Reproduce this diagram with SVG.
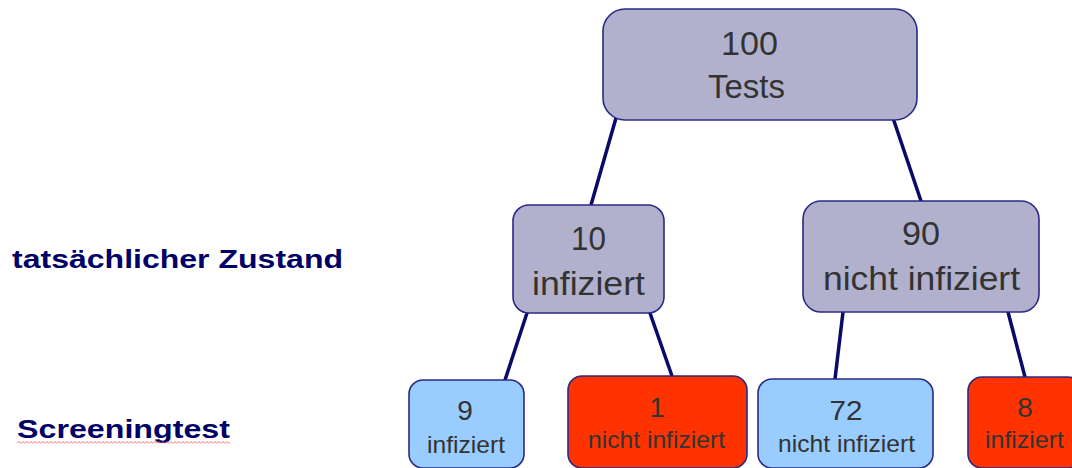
<svg xmlns="http://www.w3.org/2000/svg" width="1072" height="468" viewBox="0 0 1072 468">
<defs>
<pattern id="wavy" x="17" y="441" width="4" height="3" patternUnits="userSpaceOnUse">
  <path d="M0 2.5 L2 0.5 L4 2.5" fill="none" stroke="#ff5a5a" stroke-width="0.9"/>
</pattern>
</defs>
<style>
.node{stroke:#2a2a86;stroke-width:1.6}
.grey{fill:#b1b1cd}
.blue{fill:#99ccff}
.red{fill:#ff3300}
.t{font-family:"Liberation Sans",Arial,sans-serif;fill:#333333;text-anchor:middle}
.big{font-size:34px}
.num{font-size:28px}
.lab{font-size:24px}
.side{font-family:"Liberation Sans",Arial,sans-serif;font-weight:bold;font-size:26px;fill:#000066}
.conn line{stroke:#0a0a6a;stroke-width:3.5;stroke-linecap:round}
</style>
<rect width="1072" height="468" fill="#ffffff"/>
<g id="connectors" class="conn">
  <line x1="616" y1="118" x2="591" y2="205"/>
  <line x1="893" y1="118" x2="921" y2="201"/>
  <line x1="527" y1="313" x2="505" y2="380"/>
  <line x1="650" y1="313" x2="672" y2="376"/>
  <line x1="843" y1="312" x2="835" y2="379"/>
  <line x1="1008" y1="312" x2="1025" y2="377"/>
</g>
<g id="label-zustand">
  <text class="side" x="12" y="268" textLength="331" lengthAdjust="spacingAndGlyphs">tatsächlicher Zustand</text>
</g>
<g id="label-screening">
  <text class="side" x="17" y="438" textLength="213" lengthAdjust="spacingAndGlyphs">Screeningtest</text>
  <rect x="17" y="441" width="213" height="3" fill="url(#wavy)"/>
</g>
<g id="node-100">
  <rect class="node grey" x="603" y="9" width="314" height="111" rx="22"/>
  <text class="t big" x="749.5" y="55" textLength="57" lengthAdjust="spacingAndGlyphs">100</text>
  <text class="t big" x="746.5" y="98" textLength="77" lengthAdjust="spacingAndGlyphs">Tests</text>
</g>
<g id="node-10">
  <rect class="node grey" x="513" y="205" width="151" height="108" rx="16"/>
  <text class="t big" x="588.5" y="250" textLength="35" lengthAdjust="spacingAndGlyphs">10</text>
  <text class="t big" x="588.5" y="295" textLength="113" lengthAdjust="spacingAndGlyphs">infiziert</text>
</g>
<g id="node-90">
  <rect class="node grey" x="803" y="201" width="236" height="111" rx="18"/>
  <text class="t big" x="921" y="245" textLength="38" lengthAdjust="spacingAndGlyphs">90</text>
  <text class="t big" x="921.5" y="290" textLength="197" lengthAdjust="spacingAndGlyphs">nicht infiziert</text>
</g>
<g id="node-9">
  <rect class="node blue" x="409" y="380" width="115" height="88" rx="14"/>
  <text class="t num" x="465" y="420">9</text>
  <text class="t lab" x="466" y="453" textLength="78" lengthAdjust="spacingAndGlyphs">infiziert</text>
</g>
<g id="node-1">
  <rect class="node red" x="568" y="376" width="179" height="92" rx="14"/>
  <text class="t num" x="657" y="417">1</text>
  <text class="t lab" x="656.5" y="448" textLength="137" lengthAdjust="spacingAndGlyphs">nicht infiziert</text>
</g>
<g id="node-72">
  <rect class="node blue" x="758" y="379" width="175" height="89" rx="14"/>
  <text class="t num" x="846" y="420" textLength="33" lengthAdjust="spacingAndGlyphs">72</text>
  <text class="t lab" x="846.5" y="452" textLength="137" lengthAdjust="spacingAndGlyphs">nicht infiziert</text>
</g>
<g id="node-8">
  <rect class="node red" x="968" y="377" width="114" height="91" rx="14"/>
  <text class="t num" x="1025" y="417">8</text>
  <text class="t lab" x="1024.5" y="448" textLength="79" lengthAdjust="spacingAndGlyphs">infiziert</text>
</g>
</svg>
